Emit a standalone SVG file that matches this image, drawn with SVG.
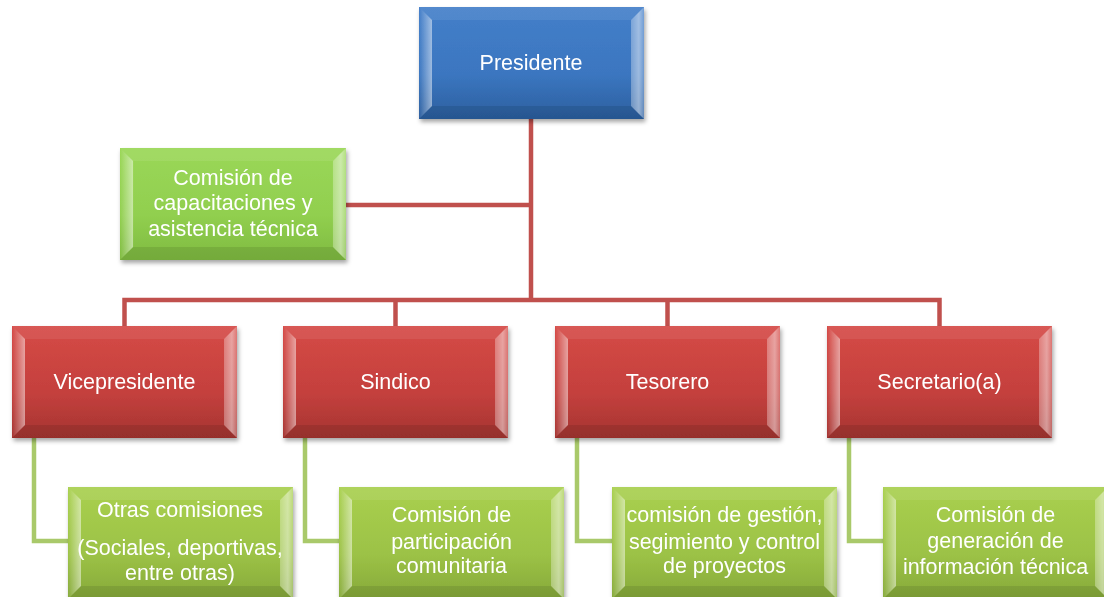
<svg xmlns="http://www.w3.org/2000/svg" xmlns:xlink="http://www.w3.org/1999/xlink" width="1104" height="597" viewBox="0 0 1104 597">
<style>
.lbl{font-family:"Liberation Sans",Arial,sans-serif;font-size:21.5px;fill:#ffffff;text-anchor:middle}
.red-line{fill:none;stroke:#c0504d;stroke-width:4.5}
.green-line{fill:none;stroke:#a9c96a;stroke-width:4.5}
</style>
<defs>
<linearGradient id="gBlue" x1="0" y1="0" x2="0" y2="1"><stop offset="0" stop-color="#447fc9"/><stop offset="0.6" stop-color="#3b76c0"/><stop offset="1" stop-color="#2c5f9f"/></linearGradient>
<linearGradient id="gRed" x1="0" y1="0" x2="0" y2="1"><stop offset="0" stop-color="#d54a46"/><stop offset="0.6" stop-color="#c4403d"/><stop offset="1" stop-color="#a53431"/></linearGradient>
<linearGradient id="gGreen" x1="0" y1="0" x2="0" y2="1"><stop offset="0" stop-color="#a9d04f"/><stop offset="0.6" stop-color="#9cc246"/><stop offset="1" stop-color="#86a93a"/></linearGradient>
<linearGradient id="gLime" x1="0" y1="0" x2="0" y2="1"><stop offset="0" stop-color="#9ad757"/><stop offset="0.6" stop-color="#91cf4f"/><stop offset="1" stop-color="#7fbb40"/></linearGradient>
<linearGradient id="bLeft" x1="0" y1="0" x2="1" y2="0"><stop offset="0" stop-color="#fff" stop-opacity="0"/><stop offset="1" stop-color="#fff" stop-opacity="0.5"/></linearGradient>
<linearGradient id="bRight" x1="0" y1="0" x2="1" y2="0"><stop offset="0" stop-color="#fff" stop-opacity="0.3"/><stop offset="0.6" stop-color="#fff" stop-opacity="0.5"/><stop offset="1" stop-color="#fff" stop-opacity="0.25"/></linearGradient>
<filter id="sh" x="-10%" y="-10%" width="120%" height="130%"><feDropShadow dx="1.5" dy="3" stdDeviation="2" flood-color="#000" flood-opacity="0.35"/></filter>
<g id="bevel">
<polygon points="0,0 225,0 212,13 13,13" fill="#fff" fill-opacity="0.08"/>
<polygon points="0,0 13,13 13,99 0,112" fill="url(#bLeft)"/>
<polygon points="225,0 225,112 212,99 212,13" fill="url(#bRight)"/>
<polygon points="0,112 13,99 212,99 225,112" fill="#000" fill-opacity="0.09"/>
</g>
</defs>
<rect width="1104" height="597" fill="#ffffff"/>
<g id="connectors">
<path class="red-line" d="M531 119 V300"/>
<path class="red-line" d="M345 205 H531"/>
<path class="red-line" d="M124.5 326 V300 H939.5 V326"/>
<path class="red-line" d="M395.5 300 V326"/>
<path class="red-line" d="M667.5 300 V326"/>
<path class="green-line" d="M34 438 V541 H68"/>
<path class="green-line" d="M305 438 V541 H339"/>
<path class="green-line" d="M577 438 V541 H612"/>
<path class="green-line" d="M849 438 V541 H883"/>
</g>
<g id="n-presidente" filter="url(#sh)">
<rect x="419" y="7" width="225" height="112" fill="url(#gBlue)"/>
<use xlink:href="#bevel" transform="translate(419,7)"/>
<text class="lbl" x="531" y="70">Presidente</text>
</g>
<g id="n-capacitaciones" filter="url(#sh)">
<rect x="120" y="148" width="226" height="112" fill="url(#gLime)"/>
<use xlink:href="#bevel" transform="translate(120,148) scale(1.0044,1)"/>
<text class="lbl" x="233" y="185">Comisión de</text>
<text class="lbl" x="233" y="210">capacitaciones y</text>
<text class="lbl" x="233" y="236">asistencia técnica</text>
</g>
<g id="n-vicepresidente" filter="url(#sh)">
<rect x="12" y="326" width="225" height="112" fill="url(#gRed)"/>
<use xlink:href="#bevel" transform="translate(12,326)"/>
<text class="lbl" x="124.5" y="389">Vicepresidente</text>
</g>
<g id="n-sindico" filter="url(#sh)">
<rect x="283" y="326" width="225" height="112" fill="url(#gRed)"/>
<use xlink:href="#bevel" transform="translate(283,326)"/>
<text class="lbl" x="395.5" y="389">Sindico</text>
</g>
<g id="n-tesorero" filter="url(#sh)">
<rect x="555" y="326" width="225" height="112" fill="url(#gRed)"/>
<use xlink:href="#bevel" transform="translate(555,326)"/>
<text class="lbl" x="667.5" y="389">Tesorero</text>
</g>
<g id="n-secretario" filter="url(#sh)">
<rect x="827" y="326" width="225" height="112" fill="url(#gRed)"/>
<use xlink:href="#bevel" transform="translate(827,326)"/>
<text class="lbl" x="939.5" y="389">Secretario(a)</text>
</g>
<g id="n-otras" filter="url(#sh)">
<rect x="68" y="487" width="225" height="112" fill="url(#gGreen)"/>
<use xlink:href="#bevel" transform="translate(68,487)"/>
<text class="lbl" x="180" y="517">Otras comisiones</text>
<text class="lbl" x="180" y="555">(Sociales, deportivas,</text>
<text class="lbl" x="180" y="580">entre otras)</text>
</g>
<g id="n-participacion" filter="url(#sh)">
<rect x="339" y="487" width="225" height="112" fill="url(#gGreen)"/>
<use xlink:href="#bevel" transform="translate(339,487)"/>
<text class="lbl" x="451.5" y="522">Comisión de</text>
<text class="lbl" x="451.5" y="549">participación</text>
<text class="lbl" x="451.5" y="573">comunitaria</text>
</g>
<g id="n-gestion" filter="url(#sh)">
<rect x="612" y="487" width="225" height="112" fill="url(#gGreen)"/>
<use xlink:href="#bevel" transform="translate(612,487)"/>
<text class="lbl" x="724.5" y="522">comisión de gestión,</text>
<text class="lbl" x="724.5" y="549">segimiento y control</text>
<text class="lbl" x="724.5" y="573">de proyectos</text>
</g>
<g id="n-generacion" filter="url(#sh)">
<rect x="883" y="487" width="225" height="112" fill="url(#gGreen)"/>
<use xlink:href="#bevel" transform="translate(883,487)"/>
<text class="lbl" x="995.5" y="522">Comisión de</text>
<text class="lbl" x="995.5" y="548">generación de</text>
<text class="lbl" x="995.5" y="574">información técnica</text>
</g>
</svg>
